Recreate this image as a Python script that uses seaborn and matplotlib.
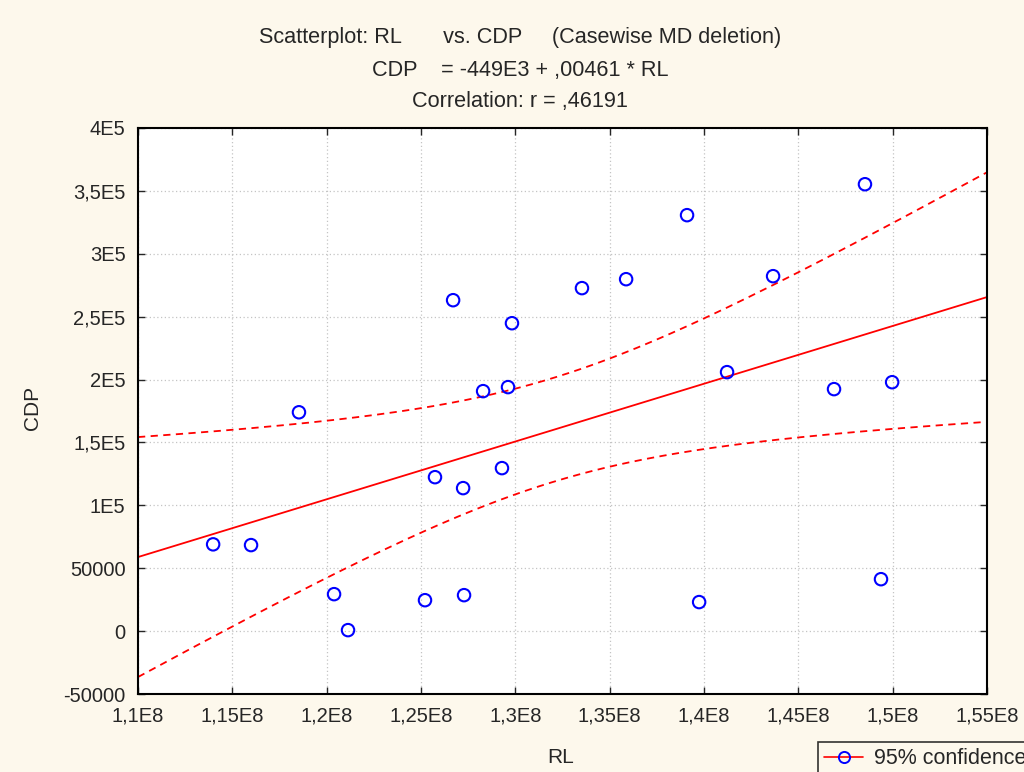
import numpy as np
import pandas as pd
import matplotlib
matplotlib.use("Agg")
import matplotlib.pyplot as plt
import seaborn as sns
from matplotlib.lines import Line2D

# data (RL vs CDP)
rl = [1.1398e8, 1.1599e8, 1.1853e8, 1.2039e8, 1.2113e8, 1.2521e8, 1.2574e8, 1.2670e8,
      1.2723e8, 1.2728e8, 1.2829e8, 1.2929e8, 1.2961e8, 1.2982e8, 1.3353e8, 1.3587e8,
      1.3910e8, 1.3974e8, 1.4122e8, 1.4366e8, 1.4689e8, 1.4853e8, 1.4938e8, 1.4997e8]
cdp = [69000, 68400, 174000, 29400, 800, 24600, 122400, 263100,
       113700, 28600, 190800, 129600, 194000, 244800, 272700, 279800,
       330700, 23100, 205900, 282200, 192400, 355300, 41300, 197900]

x_ticks = [1.10e8, 1.15e8, 1.20e8, 1.25e8, 1.30e8, 1.35e8, 1.40e8, 1.45e8, 1.50e8, 1.55e8]
x_ticklabels = ["1,1E8", "1,15E8", "1,2E8", "1,25E8", "1,3E8", "1,35E8", "1,4E8", "1,45E8", "1,5E8", "1,55E8"]
y_ticks = [-50000, 0, 50000, 100000, 150000, 200000, 250000, 300000, 350000, 400000]
y_ticklabels = ["-50000", "0", "50000", "1E5", "1,5E5", "2E5", "2,5E5", "3E5", "3,5E5", "4E5"]

title_lines = ["Scatterplot: RL       vs. CDP     (Casewise MD deletion)",
               "CDP    = -449E3 + ,00461 * RL",
               "Correlation: r = ,46191"]

bg = "#fdf8ec"

sns.set_style("white")
plt.rcParams["font.family"] = ["Liberation Sans", "DejaVu Sans"]

df = pd.DataFrame({"RL": rl, "CDP": cdp})

# linear fit and 95% confidence band for the mean response
x = df["RL"].values
y = df["CDP"].values
n = len(x)
slope, intercept = np.polyfit(x, y, 1)
resid = y - (intercept + slope * x)
s = np.sqrt(np.sum(resid ** 2) / (n - 2))
sxx = np.sum((x - x.mean()) ** 2)
t_crit = 2.074  # t(0.975, df=22)
xs = np.linspace(1.1e8, 1.55e8, 200)
fit = intercept + slope * xs
half = t_crit * s * np.sqrt(1.0 / n + (xs - x.mean()) ** 2 / sxx)
band = pd.DataFrame({"x": xs, "fit": fit, "lo": fit - half, "hi": fit + half})

fig = plt.figure(figsize=(10.24, 7.72), dpi=100, facecolor=bg)
ax = fig.add_axes([0.1348, 0.1010, 0.8291, 0.7332])
ax.set_facecolor("white")

sns.lineplot(data=band, x="x", y="fit", color="red", lw=1.3, ax=ax)
sns.lineplot(data=band, x="x", y="lo", color="red", lw=1.3, ax=ax, dashes=False)
sns.lineplot(data=band, x="x", y="hi", color="red", lw=1.3, ax=ax, dashes=False)
ax.lines[1].set_linestyle((0, (4, 3)))
ax.lines[2].set_linestyle((0, (4, 3)))
sns.scatterplot(data=df, x="RL", y="CDP", marker="o", s=80, facecolor="none",
                edgecolor="blue", linewidth=1.5, ax=ax, zorder=5)

ax.set_xlim(1.1e8, 1.55e8)
ax.set_ylim(-50000, 400000)
ax.set_xticks(x_ticks)
ax.set_xticklabels(x_ticklabels)
ax.set_yticks(y_ticks)
ax.set_yticklabels(y_ticklabels)
ax.tick_params(direction="in", length=5, width=1, labelsize=14.5, pad=9,
               top=True, right=True, bottom=True, left=True)
ax.grid(True, color="#c4c4c4", linestyle=(0, (1, 2)), linewidth=0.9)
for sp in ax.spines.values():
    sp.set_color("black")
    sp.set_linewidth(1.5)

ax.set_xlabel("RL", fontsize=15)
ax.set_ylabel("CDP", fontsize=15)
# put the axis labels where the reference has them
ax.xaxis.set_label_coords(0.498, -0.095)
ax.yaxis.set_label_coords(-0.113, 0.505)

for txt, ypos in zip(title_lines, [0.952, 0.909, 0.869]):
    fig.text(0.508, ypos, txt, ha="center", va="center", fontsize=15.6)

handle = Line2D([], [], color="red", lw=1.2, marker="o", markersize=8,
                markerfacecolor="none", markeredgecolor="blue", markeredgewidth=1.4)
leg = fig.legend([handle], ["95% confidence"], loc="upper left",
                 bbox_to_anchor=(818 / 1024, 1 - 742 / 772), borderaxespad=0,
                 fontsize=15.5, frameon=True, fancybox=False, handlelength=1.8,
                 borderpad=0.3, handletextpad=0.5)
leg.get_frame().set_edgecolor("black")
leg.get_frame().set_facecolor(bg)
leg.get_frame().set_linewidth(1.2)

fig.savefig("out.png", dpi=100, facecolor=bg)
